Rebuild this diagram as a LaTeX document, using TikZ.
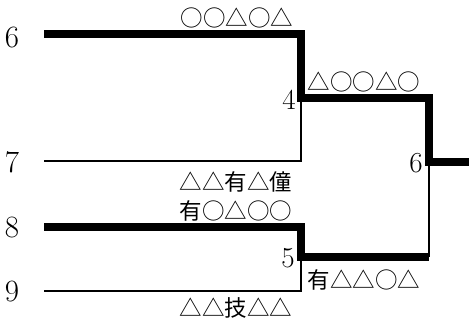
\documentclass[tikz,border=0pt]{standalone}
\usepackage{fontspec}
\newfontfamily\cjk{Noto Sans CJK JP}
\tikzset{
    win/.style={line width=7.5pt},
    lose/.style={line width=2.5pt},
    seedlbl/.style={font=\fontsize{31}{31}\selectfont, inner sep=0pt},
    scorelbl/.style={font=\fontsize{29}{29}\selectfont, inner sep=0pt},
    playerlbl/.style={font=\cjk\fontsize{22.5}{22.5}\selectfont, inner sep=0pt}
}
\begin{document}
\begin{tikzpicture}[x=1pt,y=-1pt]
        \useasboundingbox (0,0) rectangle (469,322);

        % Seeds
        \node[seedlbl] (p6) at (12,37) {6};
        \node[seedlbl] (p7) at (12,162) {7};
        \node[seedlbl] (p8) at (12,227) {8};
        \node[seedlbl] (p9) at (12,291) {9};

        % Line starts and junctions
        \coordinate (s6) at (44,34);
        \coordinate (s7) at (44,161);
        \coordinate (s8) at (44,227);
        \coordinate (s9) at (44,291);
        \coordinate (m1) at (301,98);
        \coordinate (m2) at (301,257);
        \coordinate (fin) at (429,162);
        \coordinate (out) at (469,162);

        % Losers
        \draw[lose] (s7) -| (m1);
        \draw[lose] (s9) -| (m2);
        \draw[lose] (m2 -| fin) -- (fin);

        % Winners
        \draw[win] (s6) -| (m1) -| (fin) -- (out);
        \draw[win] (s8) -| (m2) -- (m2 -| fin);

        % Scores
        \node[scorelbl, anchor=east] (r1) at (296,100) {4};
        \node[scorelbl, anchor=east] (r2) at (295,258) {5};
        \node[scorelbl, anchor=east] (r3) at (423,163) {6};

        % Players
        \node[playerlbl] (n6) at (237,18) {○○△○△};
        \node[playerlbl] (n7) at (236,182) {△△有△僮};
        \node[playerlbl] (n8) at (236,211) {有○△○○};
        \node[playerlbl] (n9) at (236,308) {△△技△△};
        \node[playerlbl] (w1) at (364,82) {△○○△○};
        \node[playerlbl] (w2) at (364,280) {有△△○△};
\end{tikzpicture}
\end{document}
